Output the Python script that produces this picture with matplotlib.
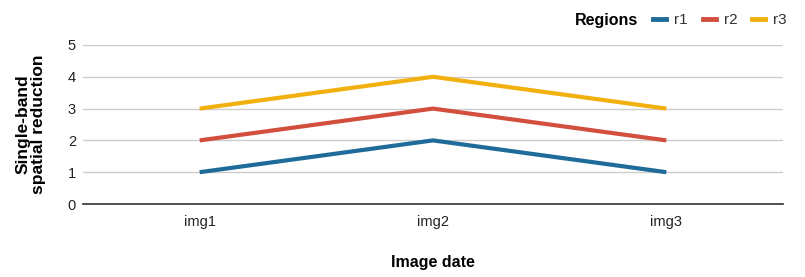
import numpy as np
import matplotlib
matplotlib.use("Agg")
import matplotlib.pyplot as plt
from matplotlib.lines import Line2D

plt.rcParams['font.family'] = ['Liberation Sans', 'DejaVu Sans']

dates = ['img1', 'img2', 'img3']
r1 = [1, 2, 1]
r2 = [2, 3, 2]
r3 = [3, 4, 3]
series = {'r1': r1, 'r2': r2, 'r3': r3}
colors = {'r1': '#1f6c9b', 'r2': '#d14f3c', 'r3': '#f2b00e'}

fig = plt.figure(figsize=(8.05, 2.77), dpi=100)
ax = fig.add_axes([83 / 805, 1 - 204 / 277, 700 / 805, 159 / 277])

x = np.arange(len(dates))
for name, vals in series.items():
    ax.plot(x, vals, color=colors[name], lw=3, solid_capstyle='butt', zorder=3)

ax.set_xlim(-0.5, 2.5)
ax.set_ylim(0, 5)
ax.set_yticks(range(0, 6))
ax.set_xticks(x)
ax.set_xticklabels(dates)
ax.grid(axis='y', color='#cccccc', lw=1)
ax.set_axisbelow(True)
for s in ['top', 'right', 'left']:
    ax.spines[s].set_visible(False)
ax.spines['bottom'].set_color('#333333')
ax.spines['bottom'].set_linewidth(1.2)
ax.spines['bottom'].set_zorder(4)
ax.tick_params(axis='both', length=0, labelsize=10.5, labelcolor='#222222')
ax.tick_params(axis='x', pad=8)
ax.tick_params(axis='y', pad=5)

ax.set_xlabel('Image date', fontsize=11.5, fontweight='bold', labelpad=19)
ax.set_ylabel('Single-band\nspatial reduction', fontsize=12.5, fontweight='bold',
              labelpad=16, linespacing=1.0)

handles = [Line2D([0], [0], color=colors[n], lw=3.5) for n in series]
fig.text(575 / 805, 1 - 20 / 277, 'Regions', fontsize=11.5, fontweight='bold',
         ha='left', va='center')
leg = fig.legend(handles, list(series.keys()), loc='center left',
                 bbox_to_anchor=(653 / 805, 1 - 20 / 277), ncol=3, frameon=False,
                 fontsize=11, handlelength=0.85, handletextpad=0.55,
                 columnspacing=0.95, borderaxespad=0, borderpad=0)
for t in leg.get_texts():
    t.set_color('#333333')

fig.savefig('out.png', dpi=100)
